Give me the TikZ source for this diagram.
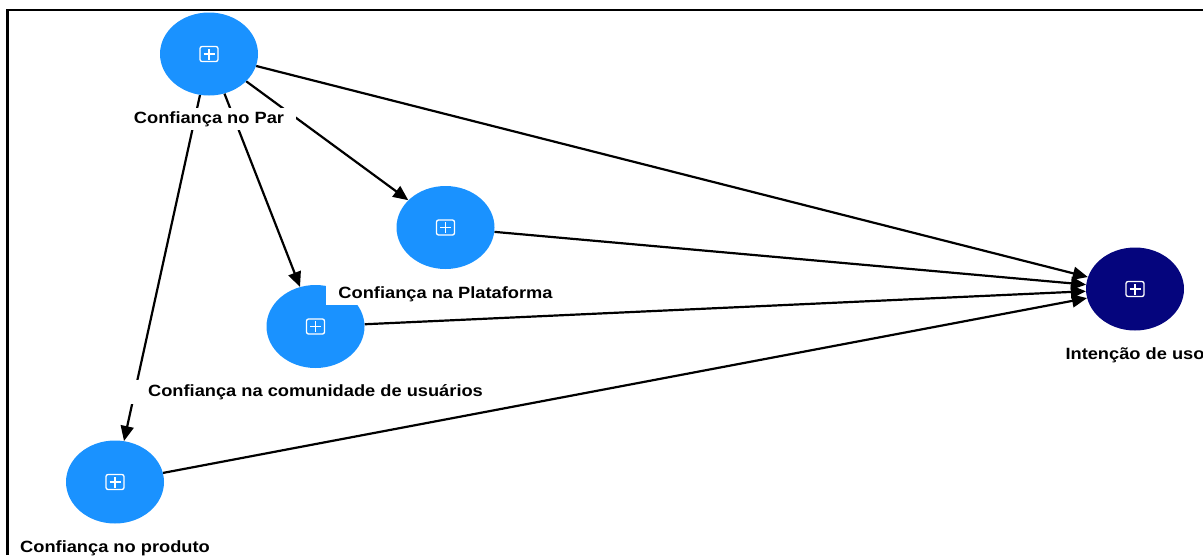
\documentclass[tikz,border=0pt]{standalone}
\usepackage{fontspec}
\setmainfont{Liberation Sans}[FakeStretch=1.12]
\usetikzlibrary{positioning,shapes.geometric,arrows.meta,backgrounds}
\definecolor{latblue}{RGB}{26,146,255}
\definecolor{endnavy}{RGB}{5,5,125}
\begin{document}
\begin{tikzpicture}[x=1pt,y=-1pt,
  construct/.style={ellipse,minimum width=98pt,minimum height=83pt,inner sep=0pt,fill=latblue},
  lbl/.style={fill=white,inner xsep=12pt,inner ysep=0pt,minimum height=22pt,
    font=\fontsize{16.3}{18}\selectfont\bfseries},
  relation/.style={line width=2.2pt,-{Triangle[length=15pt,width=13pt]}}]
\useasboundingbox (0,0) rectangle (1203,555);

\node[construct] (par) at (209,54) {};
\node[construct] (plat) at (445.5,227.5) {};
\node[construct] (com) at (315.5,326.5) {};
\node[construct] (prod) at (115,482) {};
\node[construct,fill=endnavy] (int) at (1135,289) {};

\begin{scope}[on background layer]
\foreach \a/\b in {par/plat,par/com,par/prod,par/int,plat/int,com/int,prod/int}
  \draw[relation] (\a) -- (\b);
\end{scope}

\foreach \n in {par,plat,com,prod,int}{
  \draw[white,line width=1.3pt,rounded corners=2pt]
    ([xshift=-9pt,yshift=-7.5pt]\n.center) rectangle ([xshift=9pt,yshift=7.5pt]\n.center);
  \draw[white,line width=1.3pt]
    ([xshift=-5.5pt]\n.center) -- ([xshift=5.5pt]\n.center)
    ([yshift=-5.5pt]\n.center) -- ([yshift=5.5pt]\n.center);
}

\node[lbl,below=12pt of par] (parlbl) {Confiança no Par};
\node[lbl,below=13.5pt of plat] (platlbl) {Confiança na Plataforma};
\node[lbl,inner xsep=17pt,minimum height=24pt,below=11.5pt of com] (comlbl) {Confiança na comunidade de usuários};
\node[lbl,below=13.5pt of prod] (prodlbl) {Confiança no produto};
\node[lbl,below=13.5pt of int] (intlbl) {Intenção de uso};

\draw[line width=2.2pt] (7.5,555) -- (7.5,10) -- (1203,10);
\end{tikzpicture}
\end{document}
